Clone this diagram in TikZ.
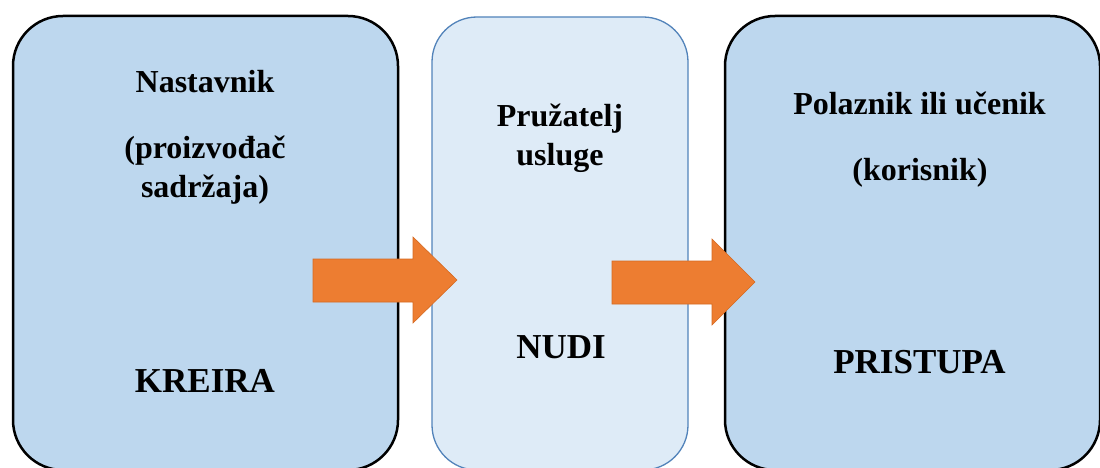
\documentclass[tikz,border=0pt]{standalone}
\usepackage{fontspec}
\setmainfont{Liberation Serif}
\definecolor{boxfill}{HTML}{BDD7EE}
\definecolor{midfill}{HTML}{DEEBF7}
\definecolor{midline}{HTML}{5283BA}
\definecolor{arrowfill}{HTML}{ED7D31}
\definecolor{arrowline}{HTML}{D56A22}
\begin{document}
\begin{tikzpicture}[x=1pt,y=-1pt,
  outerbox/.style={draw=black,line width=2.5pt,fill=boxfill,rounded corners=50pt,inner sep=0pt},
  midbox/.style={draw=midline,line width=1.3pt,fill=midfill,rounded corners=45pt,inner sep=0pt},
  small/.style={anchor=base,font=\fontsize{32}{38}\selectfont\bfseries,inner sep=0pt},
  big/.style={anchor=base,font=\fontsize{35}{42}\selectfont\bfseries,inner sep=0pt},
  blockarrow/.style={fill=arrowfill,draw=arrowline,line width=0.6pt,line join=miter}]
\useasboundingbox (0,0) rectangle (1100,468);
\fill[white] (0,0) rectangle (1100,468);
% boxes
\node[outerbox,minimum width=385pt,minimum height=454pt] (b1) at (205.5,243) {};
\node[midbox,minimum width=256pt,minimum height=453pt] (b2) at (560,243.5) {};
\node[outerbox,minimum width=375pt,minimum height=454pt] (b3) at (912.5,243) {};
% arrows
\coordinate (a1s) at (313,280);
\coordinate (a2s) at (612,282);
\draw[blockarrow] (313,259) -- (413,259) -- (413,237) -- (457,280) -- (413,323) -- (413,302) -- (313,302) -- cycle;
\draw[blockarrow] (612,261) -- (712,261) -- (712,239) -- (755,282) -- (712,325) -- (712,304) -- (612,304) -- cycle;
% texts box 1
\node[small] (t1a) at (205,93) {Nastavnik};
\node[small] (t1b) at (205,158) {(proizvođač};
\node[small] (t1c) at (205,197) {sadržaja)};
\node[big] (t1d) at (205,392) {KREIRA};
% texts box 2
\node[small] (t2a) at (560,127) {Pružatelj};
\node[small] (t2b) at (560,165) {usluge};
\node[big] (t2c) at (561,358) {NUDI};
% texts box 3
\node[small] (t3a) at (919.5,115) {Polaznik ili učenik};
\node[small] (t3b) at (920,180) {(korisnik)};
\node[big] (t3c) at (919.5,373) {PRISTUPA};
\end{tikzpicture}
\end{document}
